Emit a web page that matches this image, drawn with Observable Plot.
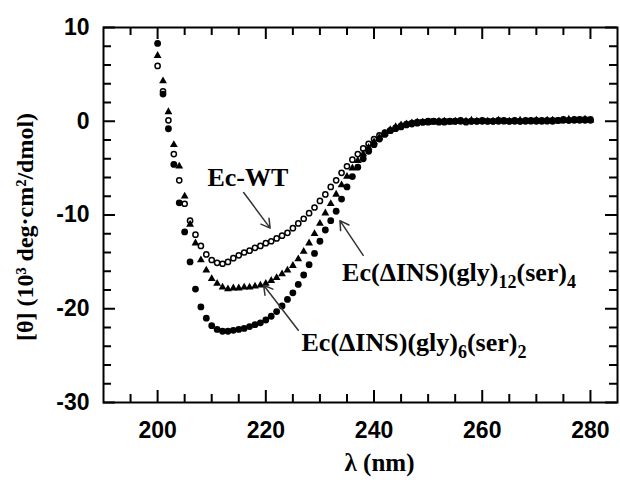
<!DOCTYPE html>
<html>
<head>
<meta charset="utf-8">
<script src="https://cdn.jsdelivr.net/npm/d3@7"></script>
<script src="https://cdn.jsdelivr.net/npm/@observablehq/plot@0.6"></script>
<style>
  html, body { margin: 0; padding: 0; background: #fff; }
</style>
</head>
<body>
<div id="chart"></div>
<script>
// ---- data ----
const wavelengths = [200,201,202,203,204,205,206,207,208,209,210,211,212,213,214,215,216,217,218,219,
  220,221,222,223,224,225,226,227,228,229,230,231,232,233,234,235,236,237,238,239,
  240,241,242,243,244,245,246,247,248,249,250,251,252,253,254,255,256,257,258,259,
  260,261,262,263,264,265,266,267,268,269,270,271,272,273,274,275,276,277,278,279,280];

const ecWT = [5.9,3.2,0.1,-3.5,-6.3,-8.8,-10.6,-12.1,-13.3,-14.2,-14.8,-15.1,-15.2,-15.0,-14.6,-14.3,-14.0,-13.8,-13.5,-13.3,
  -13.0,-12.8,-12.5,-12.2,-11.9,-11.4,-10.9,-10.4,-9.8,-9.2,-8.5,-7.8,-7.0,-6.3,-5.5,-4.8,-4.1,-3.5,-2.9,-2.4,
  -1.9,-1.5,-1.2,-1.0,-0.8,-0.6,-0.4,-0.3,-0.2,-0.1,-0.1,0.0,0.0,-0.1,0.0,0.0,0.1,0.0,0.0,0.0,
  0.1,0.0,0.0,0.1,0.0,0.0,0.1,0.0,0.1,0.0,0.1,0.1,0.0,0.1,0.1,0.2,0.1,0.2,0.1,0.2,0.2];

const ecGly12Ser4 = [7.0,4.3,1.0,-2.5,-4.8,-8.0,-11.0,-13.0,-14.8,-15.9,-16.8,-17.3,-17.7,-17.9,-17.8,-17.8,-17.7,-17.7,-17.6,-17.5,
  -17.3,-17.0,-16.7,-16.3,-15.9,-15.4,-14.7,-13.9,-13.0,-12.0,-10.9,-9.8,-8.8,-7.8,-6.8,-5.9,-5.0,-4.2,-3.5,-2.8,
  -2.2,-1.7,-1.3,-0.9,-0.6,-0.4,-0.3,-0.2,-0.1,-0.1,-0.1,-0.1,0.0,0.0,-0.1,0.0,0.0,0.0,0.1,0.0,
  0.0,0.0,0.0,0.1,0.0,0.0,0.0,0.1,0.0,0.0,0.1,0.0,0.1,0.1,0.0,0.1,0.2,0.1,0.1,0.2,0.1];

const ecGly6Ser2 = [8.3,2.9,-0.8,-4.6,-8.7,-11.8,-15.0,-17.9,-19.8,-21.0,-21.8,-22.2,-22.4,-22.4,-22.3,-22.2,-22.1,-21.9,-21.7,-21.5,
  -21.2,-20.8,-20.3,-19.7,-19.0,-18.3,-17.4,-16.4,-15.3,-14.1,-12.8,-11.6,-10.6,-9.6,-8.3,-7.0,-5.9,-4.9,-4.0,-3.2,
  -2.5,-1.9,-1.4,-1.0,-0.7,-0.5,-0.3,-0.2,-0.1,-0.1,0.0,0.0,-0.1,0.0,0.0,0.0,0.0,-0.1,0.0,0.0,
  0.0,0.0,0.0,0.0,0.1,0.0,0.0,0.0,0.0,0.1,0.0,0.0,0.1,0.0,0.1,0.1,0.1,0.1,0.2,0.1,0.1];

const xMajorTicks = [200, 220, 240, 260, 280];
const xMinorTicks = [195, 205, 210, 215, 225, 230, 235, 245, 250, 255, 265, 270, 275];
const yMajorTicks = [-30, -20, -10, 0, 10];
const yMinorTicks = [-28, -26, -24, -22, -18, -16, -14, -12, -8, -6, -4, -2, 2, 4, 6, 8];

const labelTexts = ["Ec-WT", "Ec(ΔINS)(gly)12(ser)4", "Ec(ΔINS)(gly)6(ser)2"];
const labelX = [209.2, 234.1, 226.6];
const labelY = [-6.0, -16.1, -23.6];

const arrowX1 = [215.9, 238.0, 226.0];
const arrowY1 = [-7.6, -14.3, -22.3];
const arrowX2 = [220.8, 233.7, 219.6];
const arrowY2 = [-11.4, -10.6, -17.5];

const xTitle = "λ (nm)";
const yTitle = "[θ] (10³ deg·cm²/dmol)";

// ---- tables ----
const rows = (vals) => wavelengths.map((w, i) => ({w, v: vals[i]}));
const labels = labelTexts.map((t, i) => ({t, x: labelX[i], y: labelY[i]}));
const arrows = arrowX1.map((d, i) => ({x1: arrowX1[i], y1: arrowY1[i], x2: arrowX2[i], y2: arrowY2[i]}));

const W = 620, H = 480, mt = 27, mr = 3, mb = 78, ml = 103;
const FH = H - mt - mb, FW = W - ml - mr;
const majorLen = 12, minorLen = 8;
const serif = "'Liberation Serif', 'Times New Roman', serif";
const sans = "'Liberation Sans', Arial, sans-serif";

const chart = Plot.plot({
  width: W, height: H,
  marginTop: mt, marginRight: mr, marginBottom: mb, marginLeft: ml,
  x: {domain: [190, 285]},
  y: {domain: [-30, 10]},
  style: {fontFamily: sans, background: "white", color: "black"},
  marks: [
    Plot.axisX(xMajorTicks, {tickSize: 0, tickPadding: 19, tickFormat: d => String(d), fontSize: 23, fontWeight: "bold", label: null}),
    Plot.axisY(yMajorTicks, {tickSize: 0, tickPadding: 14, tickFormat: d => String(d), fontSize: 23, fontWeight: "bold", label: null}),
    // inward ticks on all four sides
    Plot.tickX(xMajorTicks, {x: d => d, insetTop: FH - majorLen, strokeWidth: 2}),
    Plot.tickX(xMajorTicks, {x: d => d, insetBottom: FH - majorLen, strokeWidth: 2}),
    Plot.tickX(xMinorTicks, {x: d => d, insetTop: FH - minorLen, strokeWidth: 2}),
    Plot.tickX(xMinorTicks, {x: d => d, insetBottom: FH - minorLen, strokeWidth: 2}),
    Plot.tickY(yMajorTicks, {y: d => d, insetRight: FW - majorLen, strokeWidth: 2}),
    Plot.tickY(yMajorTicks, {y: d => d, insetLeft: FW - majorLen, strokeWidth: 2}),
    Plot.tickY(yMinorTicks, {y: d => d, insetRight: FW - minorLen, strokeWidth: 2}),
    Plot.tickY(yMinorTicks, {y: d => d, insetLeft: FW - minorLen, strokeWidth: 2}),
    Plot.frame({stroke: "black", strokeWidth: 2}),
    // data
    Plot.dot(rows(ecWT), {x: "w", y: "v", r: 2.6, stroke: "black", strokeWidth: 1.5, fill: "white"}),
    Plot.dot(rows(ecGly12Ser4), {x: "w", y: "v", symbol: "triangle", r: 2.9, fill: "black", stroke: "none"}),
    Plot.dot(rows(ecGly6Ser2), {x: "w", y: "v", r: 3.4, fill: "black", stroke: "none"}),
    // annotations
    Plot.arrow(arrows, {x1: "x1", y1: "y1", x2: "x2", y2: "y2", stroke: "#333", strokeWidth: 1.5, headLength: 10}),
    Plot.text(labels, {x: "x", y: "y", text: "t", textAnchor: "start", fontFamily: serif, fontWeight: "bold", fontSize: 26, fill: "black"}),
    // axis titles
    Plot.text([xTitle], {text: d => d, frameAnchor: "bottom", textAnchor: "middle", dx: 19, dy: 68, fontFamily: serif, fontWeight: "bold", fontSize: 25, fill: "black"}),
    Plot.text([yTitle], {text: d => d, frameAnchor: "left", textAnchor: "middle", rotate: -90, dx: -78, dy: 12, fontFamily: serif, fontWeight: "bold", fontSize: 24, fill: "black"})
  ]
});

// subscripts in the construct names: digits following ")" are subscripts
const svgNS = "http://www.w3.org/2000/svg";
for (const t of chart.querySelectorAll("text")) {
  const s = t.textContent;
  if (!labelTexts.includes(s) || !/\)\d/.test(s)) continue;
  const parts = s.split(/(?<=\))(\d+)/);
  while (t.firstChild) t.removeChild(t.firstChild);
  let shifted = false;
  parts.forEach((p, i) => {
    if (!p) return;
    const ts = document.createElementNS(svgNS, "tspan");
    ts.textContent = p;
    if (i % 2 === 1) {
      ts.setAttribute("font-size", "18");
      ts.setAttribute("dy", "7");
      shifted = true;
    } else if (shifted) {
      ts.setAttribute("dy", "-7");
      shifted = false;
    }
    t.appendChild(ts);
  });
}

document.getElementById("chart").appendChild(chart);
</script>
</body>
</html>
